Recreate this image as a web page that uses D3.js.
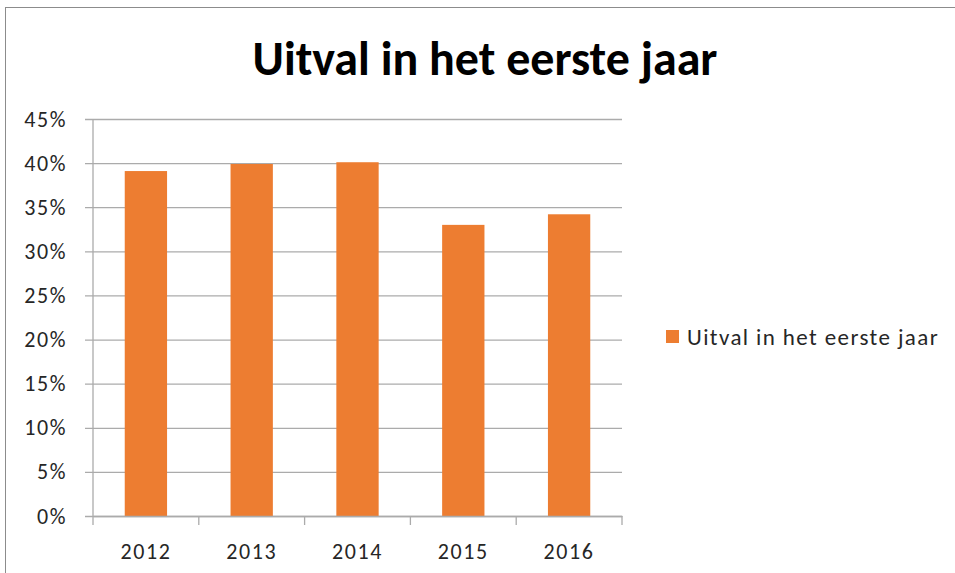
<!DOCTYPE html>
<html>
<head>
<meta charset="utf-8">
<script src="https://cdn.jsdelivr.net/npm/d3@7"></script>
<style>
  html, body { margin: 0; padding: 0; background: #fff; overflow: hidden; }
  svg { display: block; }
  svg text { font-family: Carlito, Lato, "Open Sans", sans-serif; }
</style>
</head>
<body>
<div id="chart"></div>
<script>
// Data
const years = ['2012', '2013', '2014', '2015', '2016'];
const uitval = [0.391, 0.399, 0.401, 0.330, 0.342];
const yTicks = [0, 0.05, 0.10, 0.15, 0.20, 0.25, 0.30, 0.35, 0.40, 0.45];
const chartTitle = 'Uitval in het eerste jaar';
const seriesName = 'Uitval in het eerste jaar';

const width = 955, height = 573;
const plot = { left: 93, right: 622, top: 119, bottom: 516 };
const barColor = '#ED7D31';
const gridColor = '#ABABAB';
const textColor = '#262626';
const fontStack = 'Carlito, Lato, "Open Sans", sans-serif';

const svg = d3.select('#chart').append('svg')
    .attr('width', width)
    .attr('height', height);

// outer chart frame (runs off the right and bottom edge)
svg.append('rect')
    .attr('x', 5.5).attr('y', 7.5)
    .attr('width', 1000).attr('height', 700)
    .attr('fill', '#fff')
    .attr('stroke', '#8c8c8c').attr('stroke-width', 1);

const x = d3.scaleBand()
    .domain(years)
    .range([plot.left, plot.right])
    .paddingInner(0.6)
    .paddingOuter(0.3);

const y = d3.scaleLinear()
    .domain([0, 0.45])
    .range([plot.bottom, plot.top]);

// horizontal gridlines + y axis
const yAxis = d3.axisLeft(y)
    .tickValues(yTicks)
    .tickFormat(d3.format('.0%'))
    .tickSize(-(plot.right - plot.left))
    .tickPadding(26);

const gy = svg.append('g')
    .attr('transform', `translate(${plot.left},0)`)
    .call(yAxis)
    .attr('font-family', fontStack);
gy.select('.domain').remove();
gy.selectAll('.tick line')
    .attr('x1', -8)
    .attr('stroke', gridColor).attr('stroke-width', 1.3);
gy.selectAll('.tick text')
    .attr('fill', textColor)
    .attr('font-size', '22px')
    .attr('letter-spacing', '1.6px');

// vertical axis line
svg.append('line')
    .attr('x1', plot.left).attr('x2', plot.left)
    .attr('y1', plot.top).attr('y2', plot.bottom)
    .attr('stroke', gridColor).attr('stroke-width', 1.3);

// bars
svg.append('g').selectAll('rect')
    .data(uitval)
    .join('rect')
    .attr('x', (d, i) => x(years[i]))
    .attr('y', d => y(d))
    .attr('width', x.bandwidth())
    .attr('height', d => y(0) - y(d))
    .attr('fill', barColor);

// x axis with tick marks at the category boundaries
const gx = svg.append('g')
    .attr('transform', `translate(0,${plot.bottom})`)
    .call(d3.axisBottom(x).tickSize(0).tickPadding(27))
    .attr('font-family', fontStack);
gx.select('.domain')
    .attr('stroke', gridColor).attr('stroke-width', 1.3);
gx.selectAll('.tick text')
    .attr('fill', textColor)
    .attr('font-size', '22px')
    .attr('letter-spacing', '1.6px');

const step = x.step();
const bounds = d3.range(years.length + 1).map(i => plot.left + i * step);
gx.selectAll('.sep')
    .data(bounds)
    .join('line')
    .attr('class', 'sep')
    .attr('x1', d => d).attr('x2', d => d)
    .attr('y1', 0).attr('y2', 9)
    .attr('stroke', gridColor).attr('stroke-width', 1.3);

// title
svg.append('text')
    .attr('x', 485).attr('y', 75)
    .attr('text-anchor', 'middle')
    .attr('font-size', '48px')
    .attr('font-weight', 'bold')
    .attr('fill', '#000')
    .text(chartTitle);

// legend
const legend = svg.append('g').attr('transform', 'translate(666,330)');
legend.append('rect')
    .attr('width', 13).attr('height', 13)
    .attr('fill', barColor);
legend.append('text')
    .attr('x', 21).attr('y', 15)
    .attr('font-size', '23px')
    .attr('letter-spacing', '1.4px')
    .attr('fill', textColor)
    .text(seriesName);
</script>
</body>
</html>
